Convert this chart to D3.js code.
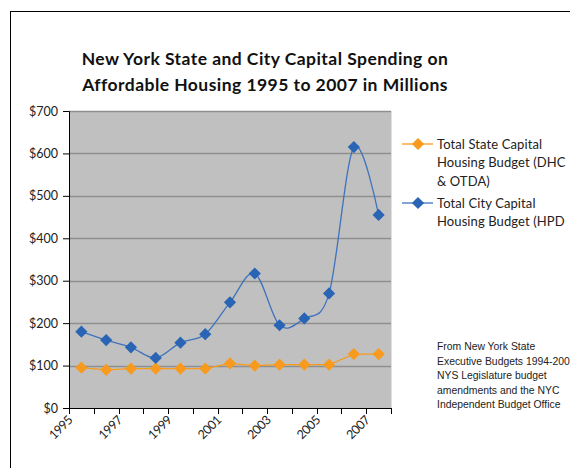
<!DOCTYPE html>
<html>
<head>
<meta charset="utf-8">
<script src="https://cdn.jsdelivr.net/npm/d3@7/dist/d3.min.js"></script>
<style>
  html, body { margin: 0; padding: 0; background: #fff; }
  svg { display: block; }
</style>
</head>
<body>
<svg id="chart" width="570" height="468"></svg>
<script>
// Capital spending on affordable housing, millions of dollars
const years = [1995, 1996, 1997, 1998, 1999, 2000, 2001, 2002, 2003, 2004, 2005, 2006, 2007];
const stateBudget = [95, 90, 93, 93, 93, 93, 105, 100, 102, 102, 102, 127, 127];
const cityBudget = [180, 160, 143, 118, 154, 174, 249, 317, 195, 211, 270, 615, 455];
const yTicks = [0, 100, 200, 300, 400, 500, 600, 700];
const xLabelYears = [1995, 1997, 1999, 2001, 2003, 2005, 2007];
const seriesNames = [
  ["Total State Capital", "Housing Budget (DHC", "& OTDA)"],
  ["Total City Capital", "Housing Budget (HPD"]
];
const sourceNote = [
  "From New York State",
  "Executive Budgets 1994-200",
  "NYS Legislature budget",
  "amendments and the NYC",
  "Independent Budget Office"
];

const svg = d3.select("#chart");
const titleFont = "'Lato', 'DejaVu Sans', sans-serif";
const bodyFont = "'Lato', 'DejaVu Sans', sans-serif";
const orange = "#f79a1e";
const blue = "#2a64b4";
const blueLine = "#3f73bd";

// outer frame
svg.append("rect")
  .attr("x", 10.5).attr("y", 11.5)
  .attr("width", 600).attr("height", 500)
  .attr("fill", "#fff").attr("stroke", "#000").attr("stroke-width", 1);

// title
const title = svg.append("text")
  .attr("text-anchor", "middle")
  .attr("font-family", titleFont)
  .attr("font-weight", "bold")
  .attr("font-size", 17.5)
  .attr("letter-spacing", 0.45)
  .attr("fill", "#111");
title.append("tspan").attr("x", 265).attr("y", 65).text("New York State and City Capital Spending on");
title.append("tspan").attr("x", 265).attr("y", 91).text("Affordable Housing 1995 to 2007 in Millions");

const plot = { left: 69, right: 391, top: 111, bottom: 408 };

const x = d3.scaleBand().domain(years).range([plot.left, plot.right]).padding(0);
const y = d3.scaleLinear().domain([0, 700]).range([plot.bottom, plot.top]);

// plot background
svg.append("rect")
  .attr("x", plot.left).attr("y", plot.top)
  .attr("width", plot.right - plot.left).attr("height", plot.bottom - plot.top)
  .attr("fill", "#c0c0c0");
svg.append("line")
  .attr("x1", plot.right + 0.5).attr("x2", plot.right + 0.5)
  .attr("y1", plot.top).attr("y2", plot.bottom)
  .attr("stroke", "#e0e0e0");

// gridlines
svg.append("g")
  .selectAll("line")
  .data(yTicks.filter(d => d > 0))
  .join("line")
  .attr("x1", plot.left).attr("x2", plot.right)
  .attr("y1", d => Math.round(y(d)) + 0.5).attr("y2", d => Math.round(y(d)) + 0.5)
  .attr("stroke", "#8f8f8f").attr("stroke-width", 1.3);

// y axis
const yAxis = svg.append("g")
  .attr("transform", `translate(${plot.left},0)`)
  .call(d3.axisLeft(y).tickValues(yTicks).tickSize(6).tickPadding(5)
    .tickFormat(d => "$" + d));
yAxis.select(".domain").attr("stroke", "#000");
yAxis.selectAll(".tick line").attr("stroke", "#000");
yAxis.selectAll("text")
  .attr("font-family", bodyFont).attr("font-size", 12.5).attr("fill", "#222");

// x axis: ticks on category boundaries
const boundaries = years.map(d => x(d)).concat([x(years[years.length - 1]) + x.bandwidth()]);
const xg = svg.append("g");
xg.append("line")
  .attr("x1", plot.left).attr("x2", plot.right)
  .attr("y1", plot.bottom + 0.5).attr("y2", plot.bottom + 0.5)
  .attr("stroke", "#000");
xg.selectAll("line.tk")
  .data(boundaries)
  .join("line").attr("class", "tk")
  .attr("x1", d => Math.round(d) + 0.5).attr("x2", d => Math.round(d) + 0.5)
  .attr("y1", plot.bottom).attr("y2", plot.bottom + 6)
  .attr("stroke", "#000");
xg.selectAll("text")
  .data(xLabelYears)
  .join("text")
  .attr("transform", d => `translate(${x(d) + x.bandwidth() / 2 - 8},${plot.bottom + 13}) rotate(-45)`)
  .attr("text-anchor", "end")
  .attr("font-family", bodyFont).attr("font-size", 12.5)
  .attr("letter-spacing", -0.5)
  .attr("fill", "#222")
  .text(d => d);

const cx = d => x(d) + x.bandwidth() / 2;
const diamond = d3.symbol().type(d3.symbolDiamond2).size(95);

// state series (straight segments)
const stateLine = d3.line().x((d, i) => cx(years[i])).y(d => y(d));
svg.append("path")
  .attr("d", stateLine(stateBudget))
  .attr("fill", "none").attr("stroke", orange).attr("stroke-width", 1.3);
svg.append("g").selectAll("path")
  .data(stateBudget)
  .join("path")
  .attr("transform", (d, i) => `translate(${cx(years[i])},${y(d)})`)
  .attr("d", diamond).attr("fill", orange);

// city series (smoothed)
const cityLine = d3.line().curve(d3.curveCardinal.tension(0))
  .x((d, i) => cx(years[i])).y(d => y(d));
svg.append("path")
  .attr("d", cityLine(cityBudget))
  .attr("fill", "none").attr("stroke", blueLine).attr("stroke-width", 1.3);
svg.append("g").selectAll("path")
  .data(cityBudget)
  .join("path")
  .attr("transform", (d, i) => `translate(${cx(years[i])},${y(d)})`)
  .attr("d", diamond).attr("fill", blue);

// legend
const legend = svg.append("g");
const legendItems = [
  { names: seriesNames[0], color: orange, lineColor: orange, y: 144 },
  { names: seriesNames[1], color: blue, lineColor: blueLine, y: 203 }
];
legendItems.forEach(it => {
  legend.append("line")
    .attr("x1", 402).attr("x2", 433).attr("y1", it.y).attr("y2", it.y)
    .attr("stroke", it.lineColor).attr("stroke-width", 1.3);
  legend.append("path")
    .attr("transform", `translate(418,${it.y})`)
    .attr("d", diamond).attr("fill", it.color);
  const t = legend.append("text")
    .attr("font-family", bodyFont).attr("font-size", 13)
    .attr("letter-spacing", 0.1).attr("fill", "#222");
  it.names.forEach((n, i) => {
    t.append("tspan").attr("x", 437).attr("y", it.y + 4.5 + i * 18.5).text(n);
  });
});

// source note
const note = svg.append("text")
  .attr("font-family", "'Liberation Sans', Arial, sans-serif")
  .attr("font-size", 10.4).attr("fill", "#222");
sourceNote.forEach((s, i) => {
  note.append("tspan").attr("x", 437).attr("y", 350 + i * 14.6).text(s);
});
</script>
</body>
</html>
